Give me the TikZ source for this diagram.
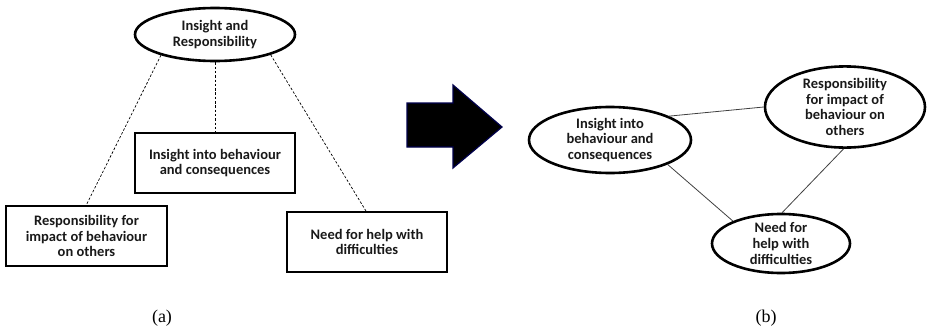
\documentclass[tikz,border=0pt]{standalone}
\usepackage{fontspec}
\setmainfont{Carlito}
\newfontfamily\labelfont{Liberation Serif}
\usetikzlibrary{shapes.geometric}
\tikzset{
  txt/.style={font=\bfseries\fontsize{14.5}{15.7}\selectfont, align=center, text=black!90},
  oval/.style={txt, ellipse, draw, line width=2.6pt, inner sep=0pt},
  boxnode/.style={txt, rectangle, draw, line width=2.6pt, inner sep=0pt},
  dashline/.style={dash pattern=on 2.5pt off 1.8pt, line width=0.7pt},
  solidline/.style={line width=0.8pt, draw=black!75},
  caption/.style={font=\labelfont\fontsize{18}{20}\selectfont}
}
\begin{document}
\begin{tikzpicture}[x=1pt,y=-1pt]
\useasboundingbox (0,0) rectangle (928,332);
% (a)
\node[oval, minimum width=160pt, minimum height=53pt] (top) at (215,34.5) {Insight and\\Responsibility};
\node[boxnode, minimum width=160pt, minimum height=60pt] (mid) at (215,163) {Insight into behaviour\\and consequences};
\node[boxnode, minimum width=161pt, minimum height=60pt] (left) at (86.5,236) {Responsibility for\\impact of behaviour\\on others};
\node[boxnode, minimum width=160pt, minimum height=60pt] (right) at (367,242) {Need for help with\\difficulties};
\draw[dashline] (top.201) -- (left.north);
\draw[dashline] (top.south) -- (mid.north);
\draw[dashline] (top.340) -- ([yshift=-2pt]right.north);
\node[caption] (capa) at (162,318) {(a)};
% big arrow
\draw[fill=black, draw=blue!30!black, line width=1.2pt]
  (407,103) -- (453,103) -- (453,85) -- (502,127) -- (453,168) -- (453,147) -- (407,147) -- cycle;
% (b)
\node[oval, minimum width=162pt, minimum height=66pt] (ins) at (610,140) {Insight into\\behaviour and\\consequences};
\node[oval, minimum width=160pt, minimum height=66pt] (resp) at (845,107) {Responsibility\\for impact of\\behaviour on\\others};
\node[oval, minimum width=138pt, minimum height=59pt] (need) at (781,243.5) {Need for\\help with\\difficulties};
\draw[solidline] (ins.22) -- (resp.180);
\draw[solidline] (ins.-23) -- (need.155);
\draw[solidline] (resp.-92) -- (need.88);
\node[caption] (capb) at (766,318) {(b)};
\end{tikzpicture}
\end{document}
